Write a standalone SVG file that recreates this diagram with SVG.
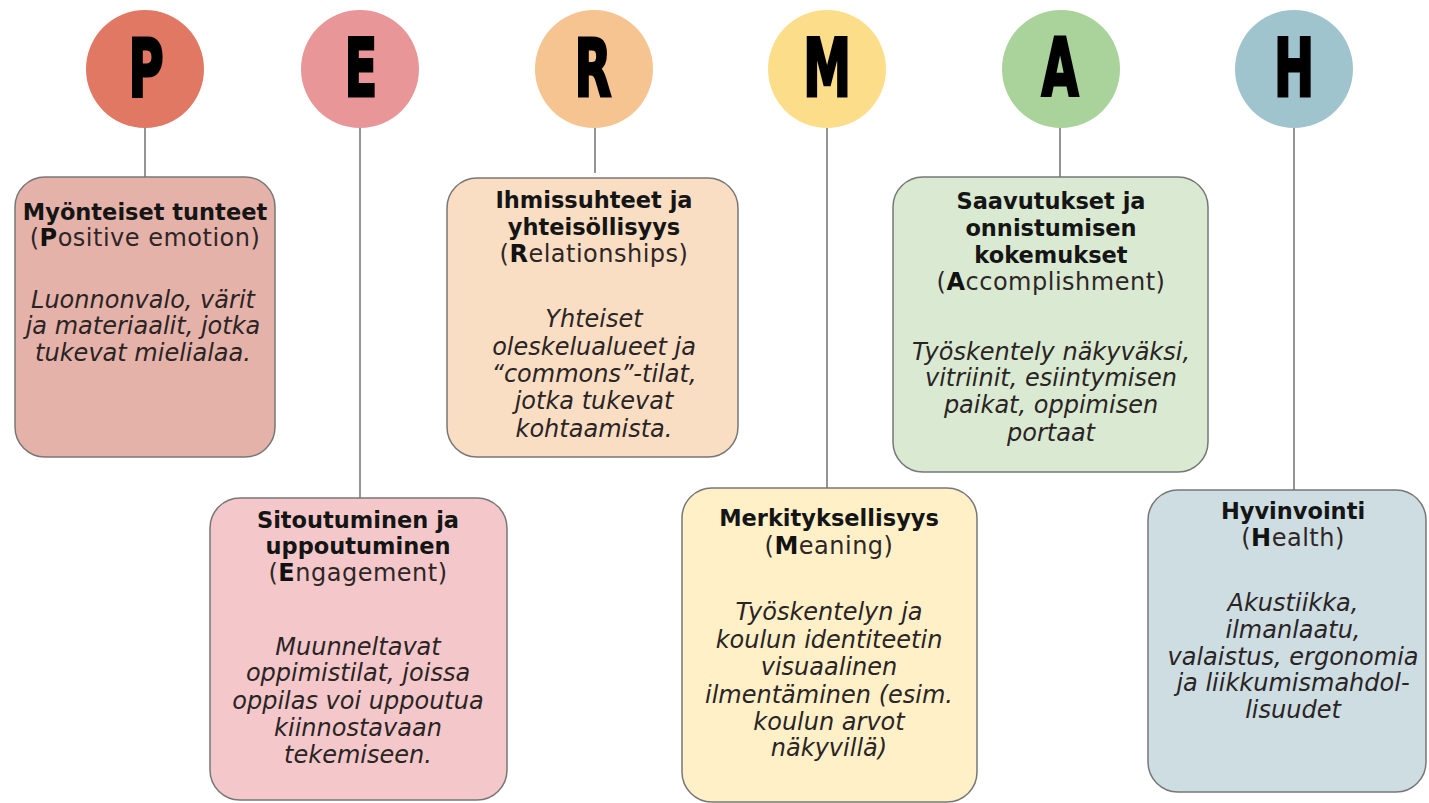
<svg xmlns="http://www.w3.org/2000/svg" width="1429" height="803" viewBox="0 0 1429 803">
<style>
.L{font-family:"DejaVu Sans",sans-serif;font-weight:bold;font-size:80px;fill:#000;stroke:#000;stroke-width:3px;text-anchor:middle}
.box{stroke:#777;stroke-width:1.5}
.con line{stroke:#7a7a7a;stroke-width:1.6}
text.t{font-family:"DejaVu Sans",sans-serif;font-size:24px;text-anchor:middle}
text.h{font-weight:bold;fill:#151515;font-size:22.5px}
.s{fill:#2e2626;letter-spacing:0.5px}
.i{font-style:italic;fill:#2a2424}
.b{font-weight:bold;fill:#111}
</style>
<rect width="1429" height="803" fill="#fff"/>
<g class="con" id="connectors">
<line x1="145" y1="128" x2="145" y2="177"/>
<line x1="360" y1="128" x2="360" y2="498"/>
<line x1="595" y1="128" x2="595" y2="173"/>
<line x1="827" y1="128" x2="827" y2="488"/>
<line x1="1060" y1="128" x2="1060" y2="177"/>
<line x1="1294" y1="128" x2="1294" y2="490"/>
</g>
<g id="circle-P"><circle cx="145" cy="69" r="59" fill="#E17864"/><text class="L" transform="translate(146,96) scale(0.6,1)">P</text></g>
<g id="circle-E"><circle cx="360" cy="69" r="59" fill="#E99698"/><text class="L" transform="translate(361,96) scale(0.6,1)">E</text></g>
<g id="circle-R"><circle cx="594" cy="69" r="59" fill="#F6C491"/><text class="L" transform="translate(593,96) scale(0.6,1)">R</text></g>
<g id="circle-M"><circle cx="827" cy="69" r="59" fill="#FCDE8A"/><text class="L" transform="translate(827,96) scale(0.6,1)">M</text></g>
<g id="circle-A"><circle cx="1061" cy="69" r="59" fill="#AAD29B"/><text class="L" transform="translate(1060,96) scale(0.6,1)">A</text></g>
<g id="circle-H"><circle cx="1294" cy="69" r="59" fill="#A0C4CD"/><text class="L" transform="translate(1294,96) scale(0.6,1)">H</text></g>

<g id="box-P">
<rect class="box" x="15" y="177" width="260" height="280" rx="30" fill="#E5B2AA"/>
<text class="t h" x="145" y="220">Myönteiset tunteet</text>
<text class="t s" x="145" y="246">(<tspan class="b">P</tspan>ositive emotion)</text>
<text class="t i" x="143" y="308">Luonnonvalo, värit</text>
<text class="t i" x="143" y="334">ja materiaalit, jotka</text>
<text class="t i" x="143" y="361">tukevat mielialaa.</text>
</g>
<g id="box-E">
<rect class="box" x="210" y="498" width="297" height="302" rx="30" fill="#F4C8CA"/>
<text class="t h" x="358" y="528">Sitoutuminen ja</text>
<text class="t h" x="358" y="554">uppoutuminen</text>
<text class="t s" x="358" y="581">(<tspan class="b">E</tspan>ngagement)</text>
<text class="t i" x="358" y="655">Muunneltavat</text>
<text class="t i" x="358" y="681">oppimistilat, joissa</text>
<text class="t i" x="358" y="709">oppilas voi uppoutua</text>
<text class="t i" x="358" y="736">kiinnostavaan</text>
<text class="t i" x="358" y="763">tekemiseen.</text>
</g>
<g id="box-R">
<rect class="box" x="447" y="178" width="291" height="279" rx="30" fill="#FADEC4"/>
<text class="t h" x="594" y="208">Ihmissuhteet ja</text>
<text class="t h" x="594" y="235">yhteisöllisyys</text>
<text class="t s" x="594" y="262">(<tspan class="b">R</tspan>elationships)</text>
<text class="t i" x="594" y="327">Yhteiset</text>
<text class="t i" x="594" y="355">oleskelualueet ja</text>
<text class="t i" x="594" y="382">“commons”-tilat,</text>
<text class="t i" x="594" y="409">jotka tukevat</text>
<text class="t i" x="594" y="437">kohtaamista.</text>
</g>
<g id="box-M">
<rect class="box" x="682" y="488" width="295" height="314" rx="30" fill="#FFF0C8"/>
<text class="t h" x="829" y="526">Merkityksellisyys</text>
<text class="t s" x="829" y="554">(<tspan class="b">M</tspan>eaning)</text>
<text class="t i" x="829" y="620">Työskentelyn ja</text>
<text class="t i" x="829" y="648">koulun identiteetin</text>
<text class="t i" x="829" y="675">visuaalinen</text>
<text class="t i" x="829" y="703">ilmentäminen (esim.</text>
<text class="t i" x="829" y="730">koulun arvot</text>
<text class="t i" x="829" y="756">näkyvillä)</text>
</g>
<g id="box-A">
<rect class="box" x="893" y="177" width="315" height="295" rx="30" fill="#DAEAD2"/>
<text class="t h" x="1051" y="209">Saavutukset ja</text>
<text class="t h" x="1051" y="236">onnistumisen</text>
<text class="t h" x="1051" y="263">kokemukset</text>
<text class="t s" x="1051" y="290">(<tspan class="b">A</tspan>ccomplishment)</text>
<text class="t i" x="1051" y="360">Työskentely näkyväksi,</text>
<text class="t i" x="1051" y="386">vitriinit, esiintymisen</text>
<text class="t i" x="1051" y="413">paikat, oppimisen</text>
<text class="t i" x="1051" y="441">portaat</text>
</g>
<g id="box-H">
<rect class="box" x="1148" y="490" width="278" height="302" rx="30" fill="#CDDDE2"/>
<text class="t h" x="1293" y="519">Hyvinvointi</text>
<text class="t s" x="1293" y="546">(<tspan class="b">H</tspan>ealth)</text>
<text class="t i" x="1293" y="611">Akustiikka,</text>
<text class="t i" x="1293" y="638">ilmanlaatu,</text>
<text class="t i" x="1293" y="665">valaistus, ergonomia</text>
<text class="t i" x="1293" y="691">ja liikkumismahdol-</text>
<text class="t i" x="1293" y="718">lisuudet</text>
</g>
</svg>
